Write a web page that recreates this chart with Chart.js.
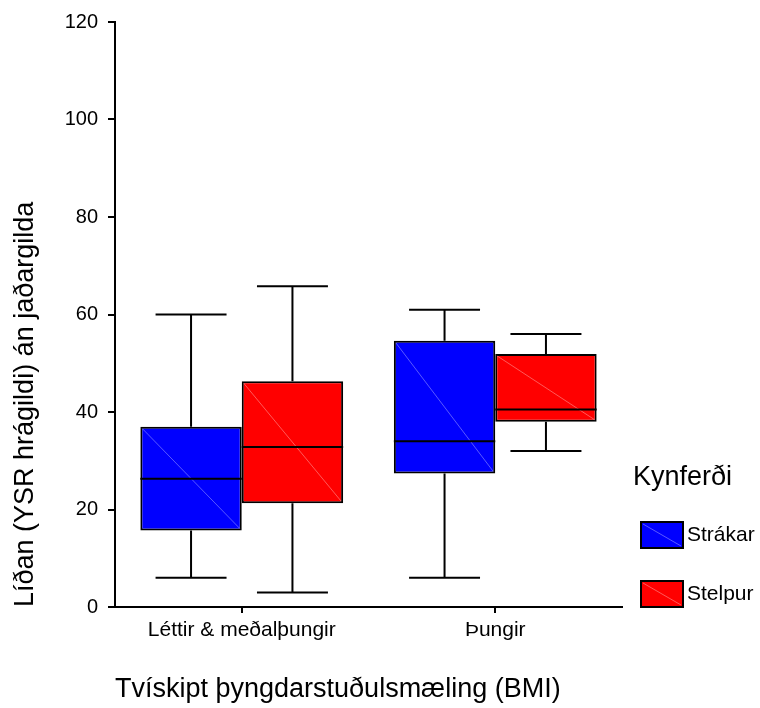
<!DOCTYPE html>
<html>
<head>
<meta charset="utf-8">
<title>Líðan eftir BMI og kyni</title>
<script src="https://cdn.jsdelivr.net/npm/chart.js@4.4.1/dist/chart.umd.min.js"></script>
<style>
    html, body { margin: 0; padding: 0; background: #ffffff; }
    #wrap { width: 760px; height: 708px; }
</style>
</head>
<body>
<div id="wrap"><canvas id="bmi-box-chart" width="760" height="708"></canvas></div>
<script>
// flokkar og heiti hópa
const categories = ['Léttir & meðalþungir', 'Þungir'];
const seriesNames = ['Strákar', 'Stelpur'];
const seriesColors = ['#0000ff', '#ff0000'];

// kassarit: lægsta, neðri fjórðungsmark, miðgildi, efri fjórðungsmark, hæsta
const boysMin    = [6, 6];
const boysQ1     = [15.7, 27.4];
const boysMedian = [26.3, 34];
const boysQ3     = [37, 54.6];
const boysMax    = [60, 61];

const girlsMin    = [3, 32];
const girlsQ1     = [21.3, 38];
const girlsMedian = [32.8, 40.5];
const girlsQ3     = [46.3, 51.9];
const girlsMax    = [65.8, 56];

const yTicks = [0, 20, 40, 60, 80, 100, 120];

const FONT = "'Liberation Sans', Arial, Helvetica, sans-serif";

const boxStats = [
    { min: boysMin, q1: boysQ1, med: boysMedian, q3: boysQ3, max: boysMax },
    { min: girlsMin, q1: girlsQ1, med: girlsMedian, q3: girlsQ3, max: girlsMax }
];

// veiðihár, miðgildislína og skálína í kössunum
const whiskerPlugin = {
    id: 'whiskers',
    afterDatasetsDraw(chart) {
        const ctx = chart.ctx;
        const yScale = chart.scales.y;
        ctx.save();
        chart.data.datasets.forEach((ds, d) => {
            const meta = chart.getDatasetMeta(d);
            const st = boxStats[d];
            meta.data.forEach((bar, i) => {
                const cx = bar.x;
                const half = bar.width / 2;
                const left = cx - half;
                const right = cx + half;
                const yMin = yScale.getPixelForValue(st.min[i]);
                const yQ1 = yScale.getPixelForValue(st.q1[i]);
                const yMed = yScale.getPixelForValue(st.med[i]);
                const yQ3 = yScale.getPixelForValue(st.q3[i]);
                const yMax = yScale.getPixelForValue(st.max[i]);
                const cap = bar.width * 0.35;

                // dauf skálína
                ctx.strokeStyle = 'rgba(255,255,255,0.35)';
                ctx.lineWidth = 1;
                ctx.beginPath();
                ctx.moveTo(left + 2, yQ3 + 2);
                ctx.lineTo(right - 2, yQ1 - 2);
                ctx.stroke();

                ctx.strokeStyle = '#000000';
                ctx.lineWidth = 2;
                ctx.beginPath();
                // miðgildi
                ctx.moveTo(left, yMed);
                ctx.lineTo(right, yMed);
                // efra veiðihár
                ctx.moveTo(cx, yQ3);
                ctx.lineTo(cx, yMax);
                ctx.moveTo(cx - cap, yMax);
                ctx.lineTo(cx + cap, yMax);
                // neðra veiðihár
                ctx.moveTo(cx, yQ1);
                ctx.lineTo(cx, yMin);
                ctx.moveTo(cx - cap, yMin);
                ctx.lineTo(cx + cap, yMin);
                ctx.stroke();
            });
        });
        ctx.restore();
    }
};

// skýringar hægra megin
const legendPlugin = {
    id: 'sideLegend',
    afterDraw(chart) {
        const ctx = chart.ctx;
        ctx.save();
        ctx.fillStyle = '#000000';
        ctx.textBaseline = 'middle';
        ctx.textAlign = 'left';
        ctx.font = '27px ' + FONT;
        ctx.fillText('Kynferði', 633, 478);

        const rows = [535, 594];
        seriesNames.forEach((name, i) => {
            const bx = 641, by = rows[i] - 13, bw = 42, bh = 26;
            ctx.fillStyle = seriesColors[i];
            ctx.fillRect(bx, by, bw, bh);
            ctx.strokeStyle = 'rgba(255,255,255,0.35)';
            ctx.lineWidth = 1;
            ctx.beginPath();
            ctx.moveTo(bx + 2, by + 2);
            ctx.lineTo(bx + bw - 2, by + bh - 2);
            ctx.stroke();
            ctx.strokeStyle = '#000000';
            ctx.lineWidth = 2;
            ctx.strokeRect(bx, by, bw, bh);
            ctx.fillStyle = '#000000';
            ctx.font = '21px ' + FONT;
            ctx.fillText(name, bx + bw + 4, rows[i]);
        });
        ctx.restore();
    }
};

const datasets = boxStats.map((st, d) => ({
    label: seriesNames[d],
    data: st.q1.map((q1, i) => [q1, st.q3[i]]),
    backgroundColor: seriesColors[d],
    borderColor: '#000000',
    borderWidth: 2,
    borderSkipped: false,
    categoryPercentage: 0.8,
    barPercentage: 1.0
}));

new Chart(document.getElementById('bmi-box-chart'), {
    type: 'bar',
    data: { labels: categories, datasets: datasets },
    options: {
        responsive: false,
        animation: false,
        layout: { padding: { top: 21, right: 138, left: 0, bottom: 0 } },
        plugins: {
            legend: { display: false },
            tooltip: { enabled: false }
        },
        scales: {
            x: {
                offset: true,
                grid: {
                    offset: false,
                    drawOnChartArea: false,
                    drawTicks: true,
                    tickLength: 6,
                    color: '#000000',
                    lineWidth: 2
                },
                border: { color: '#000000', width: 2 },
                ticks: {
                    color: '#000000',
                    padding: 5,
                    maxRotation: 0,
                    font: { family: FONT, size: 21 }
                },
                title: {
                    display: true,
                    text: 'Tvískipt þyngdarstuðulsmæling (BMI)',
                    align: 'start',
                    color: '#000000',
                    font: { family: FONT, size: 27 },
                    padding: { top: 0, bottom: 2 }
                },
                afterFit(scale) { scale.height = 101; }
            },
            y: {
                min: 0,
                max: 120,
                afterBuildTicks(scale) {
                    scale.ticks = yTicks.map(v => ({ value: v }));
                },
                grid: {
                    drawOnChartArea: false,
                    drawTicks: true,
                    tickLength: 7,
                    color: '#000000',
                    lineWidth: 2
                },
                border: { color: '#000000', width: 2 },
                ticks: {
                    color: '#000000',
                    padding: 10,
                    font: { family: FONT, size: 20 }
                },
                title: {
                    display: true,
                    text: 'Líðan (YSR hrágildi) án jaðargilda',
                    align: 'start',
                    color: '#000000',
                    font: { family: FONT, size: 27 },
                    padding: { top: 9, bottom: 0 }
                },
                afterFit(scale) { scale.width = 115; }
            }
        }
    },
    plugins: [whiskerPlugin, legendPlugin]
});
</script>
</body>
</html>
